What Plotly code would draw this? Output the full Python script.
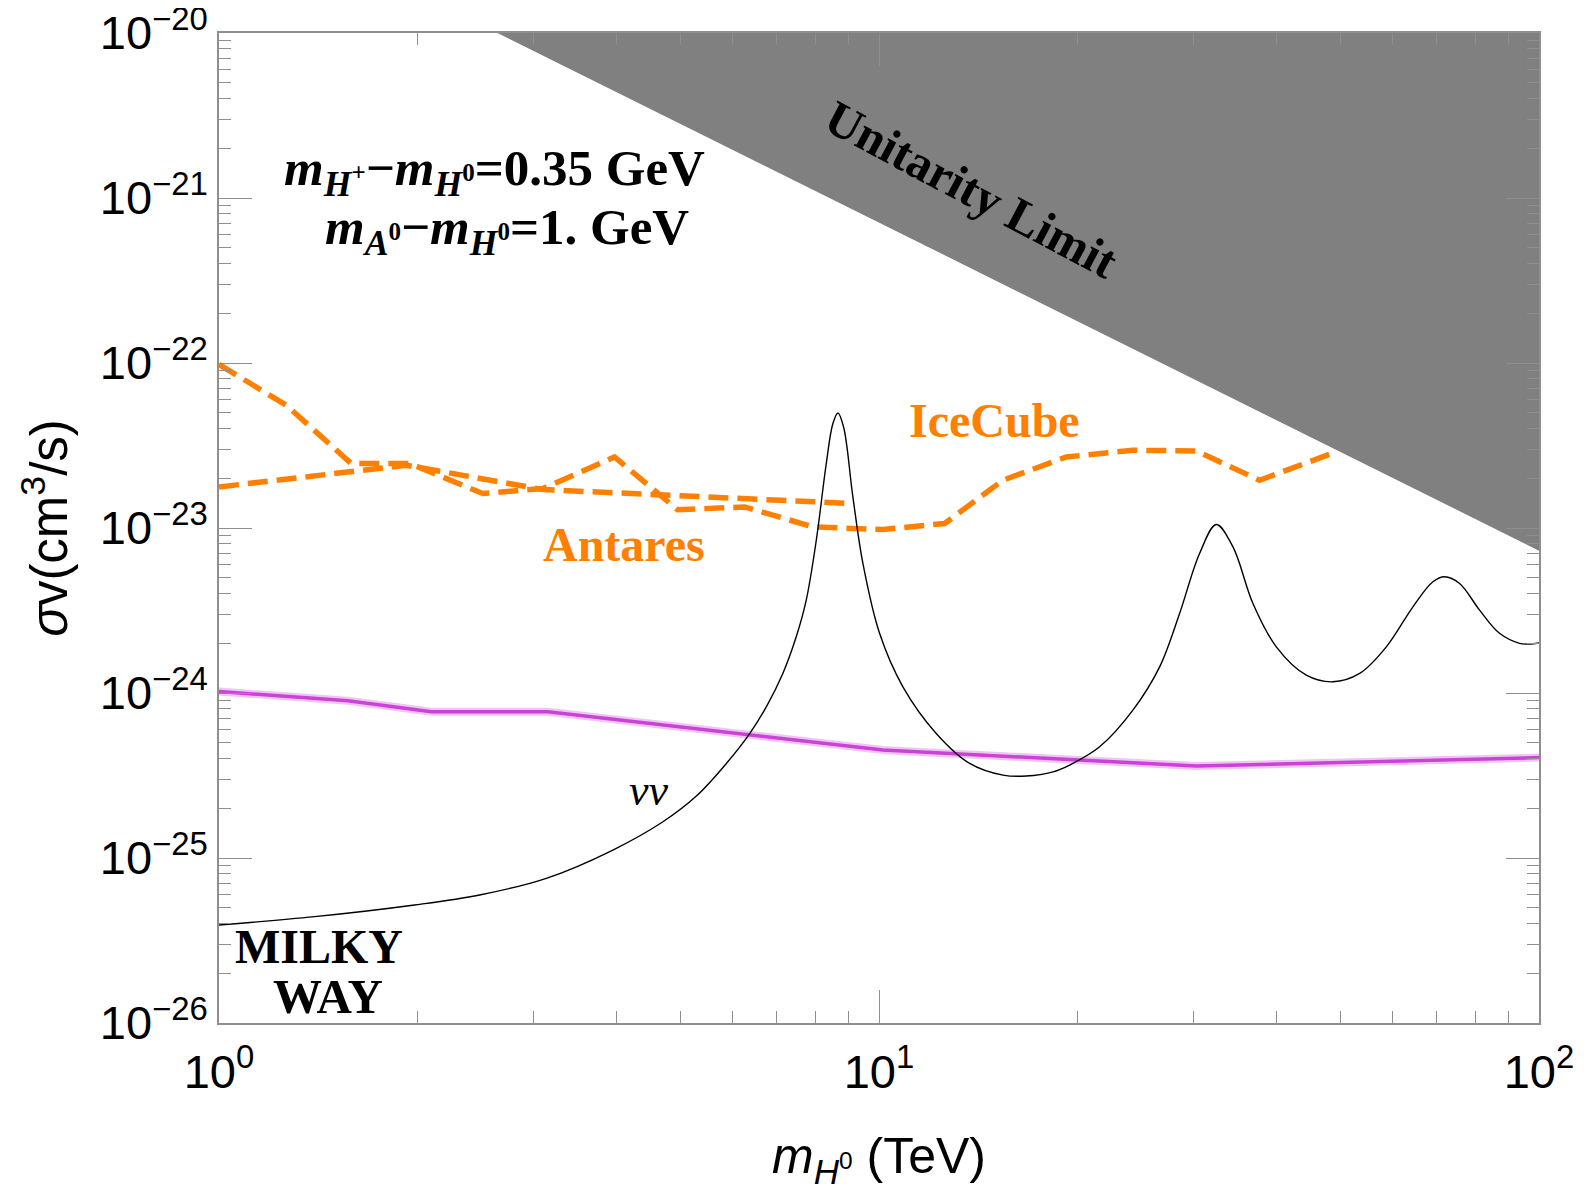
import plotly.graph_objects as go

# ---------------- data ----------------
# nu-nu annihilation cross-section (Milky Way), black curve
nn_mass = [1.0, 1.396, 1.978, 2.482, 3.133, 3.952, 4.706, 5.288, 5.870, 6.368,
           6.749, 7.150, 7.492, 7.758, 8.035, 8.320, 8.514, 8.664, 8.838, 9.129,
           9.454, 10.02, 10.87, 12.21, 13.72, 15.41, 16.72, 18.35, 19.45, 21.59,
           24.25, 26.62, 28.54, 30.60, 32.44, 34.38, 36.86, 39.99, 44.41, 48.72,
           53.48, 58.71, 64.42, 69.07, 71.94, 75.80, 81.28, 87.14, 93.46, 96.77, 100.0]
nn_sv = [3.93e-26, 4.41e-26, 5.19e-26, 5.97e-26, 7.53e-26, 1.118e-25, 1.659e-25, 2.374e-25, 3.736e-25, 5.676e-25,
         8.25e-25, 1.314e-24, 2.19e-24, 3.653e-24, 8.43e-24, 2.459e-23, 4.295e-23, 4.98e-23, 4.096e-23, 1.543e-23,
         6.10e-24, 2.30e-24, 1.09e-24, 5.69e-25, 3.746e-25, 3.18e-25, 3.14e-25, 3.33e-25, 3.66e-25, 4.72e-25,
         7.88e-25, 1.441e-24, 3.035e-24, 7.01e-24, 1.05e-23, 7.68e-24, 3.49e-24, 1.905e-24, 1.283e-24, 1.169e-24,
         1.314e-24, 1.905e-24, 3.33e-24, 4.72e-24, 5.06e-24, 4.61e-24, 3.18e-24, 2.30e-24, 2.00e-24, 1.98e-24, 2.01e-24]

# magenta limit curve
mag_mass = [1.0, 1.568, 2.098, 3.15, 10.14, 30.26, 100.0]
mag_sv = [1.02e-24, 8.97e-25, 7.69e-25, 7.69e-25, 4.51e-25, 3.61e-25, 4.06e-25]

# IceCube limit (orange dashed)
ice_mass = [1.0, 1.265, 1.586, 1.945, 2.51, 3.096, 3.975, 4.953, 6.258, 7.94,
            10.14, 12.57, 15.41, 19.22, 24.25, 30.25, 37.73, 48.16]
ice_sv = [9.8e-23, 5.54e-23, 2.46e-23, 2.46e-23, 1.618e-23, 1.734e-23, 2.695e-23, 1.29e-23, 1.342e-23, 1.016e-23,
          9.79e-24, 1.065e-23, 1.948e-23, 2.695e-23, 2.96e-23, 2.93e-23, 1.948e-23, 2.80e-23]

# Antares limit (orange dashed)
ant_mass = [1.0, 1.922, 3.096, 9.129]
ant_sv = [1.774e-23, 2.40e-23, 1.71e-23, 1.407e-23]

# unitarity limit (grey region boundary)
uni_mass = [2.643, 100.0, 100.0]
uni_sv = [1e-20, 7.29e-24, 1e-20]

x_tickvals = [1, 10, 100]
x_ticktext = ["10<sup>0</sup>", "10<sup>1</sup>", "10<sup>2</sup>"]
y_tickvals = [1e-26, 1e-25, 1e-24, 1e-23, 1e-22, 1e-21, 1e-20]
y_ticktext = ["10<sup>\u221226</sup>", "10<sup>\u221225</sup>", "10<sup>\u221224</sup>",
              "10<sup>\u221223</sup>", "10<sup>\u221222</sup>", "10<sup>\u221221</sup>",
              "10<sup>\u221220</sup>"]

x_minor = [k * 10 ** d for d in (0, 1) for k in range(2, 10)]
y_minor = [k * 10.0 ** d for d in range(-26, -20) for k in range(2, 10)]

ORANGE = "rgb(255,128,0)"
MAGENTA = "rgb(202,66,214)"
AXC = "#8e8e8e"
SERIF = "Liberation Serif"
SANS = "Liberation Sans"

fig = go.Figure()

fig.add_trace(go.Scatter(x=ice_mass, y=ice_sv, mode="lines", name="IceCube",
                         line=dict(color=ORANGE, width=5.5, dash="20px,9px")))
fig.add_trace(go.Scatter(x=ant_mass, y=ant_sv, mode="lines", name="Antares",
                         line=dict(color=ORANGE, width=5.5, dash="20px,9px")))
fig.add_trace(go.Scatter(x=mag_mass, y=mag_sv, mode="lines", name="halo",
                         line=dict(color="rgba(202,66,214,0.30)", width=8)))
fig.add_trace(go.Scatter(x=mag_mass, y=mag_sv, mode="lines", name="limit",
                         line=dict(color=MAGENTA, width=3.5)))
fig.add_trace(go.Scatter(x=nn_mass, y=nn_sv, mode="lines", name="\u03bd\u03bd",
                         line=dict(color="black", width=1.4, shape="spline", smoothing=1.0)))
fig.add_trace(go.Scatter(x=uni_mass, y=uni_sv, mode="lines", name="Unitarity",
                         fill="toself", fillcolor="#808080", line=dict(color="#808080", width=0)))

axis_common = dict(
    type="log", ticks="inside", ticklen=33, tickwidth=1.3, tickcolor=AXC,
    showline=True, linecolor=AXC, linewidth=1.5, mirror="allticks",
    showgrid=False, zeroline=False, ticklabeloverflow="allow",
    tickfont=dict(family=SANS, size=47, color="black"),
)

fig.update_xaxes(
    range=[0, 2], tickvals=x_tickvals, ticktext=x_ticktext, ticklabelstandoff=7,
    minor=dict(tickvals=x_minor, ticks="inside", ticklen=12, tickwidth=1.2,
               tickcolor=AXC, showgrid=False),
    title=dict(text="<i>m</i><sub><i>H</i><sup>0</sup></sub> (TeV)",
               font=dict(family=SANS, size=50, color="black"), standoff=74),
    **axis_common,
)
fig.update_yaxes(
    range=[-26, -20], tickvals=y_tickvals, ticktext=y_ticktext,
    minor=dict(tickvals=y_minor, ticks="inside", ticklen=12, tickwidth=1.2,
               tickcolor=AXC, showgrid=False),
    title=dict(text="<i>\u03c3</i>v(cm<sup>3</sup>/s)",
               font=dict(family=SANS, size=51, color="black"), standoff=16),
    **axis_common,
)

annotations = [
    dict(x=1.1403, y=-20.948, text="<b>Unitarity Limit</b>", textangle=28,
         font=dict(family=SERIF, size=49, color="black")),
    dict(x=0.4176, y=-20.84,
         text="<b><i>m</i><sub><i>H</i><sup>+</sup></sub>\u2212<i>m</i><sub><i>H</i><sup>0</sup></sub>=0.35 GeV</b>",
         font=dict(family=SERIF, size=51, color="black")),
    dict(x=0.4365, y=-21.20,
         text="<b><i>m</i><sub><i>A</i><sup>0</sup></sub>\u2212<i>m</i><sub><i>H</i><sup>0</sup></sub>=1. GeV</b>",
         font=dict(family=SERIF, size=51, color="black")),
    dict(x=1.1744, y=-22.347, text="<b>IceCube</b>",
         font=dict(family=SERIF, size=48, color=ORANGE)),
    dict(x=0.6130, y=-23.098, text="<b>Antares</b>",
         font=dict(family=SERIF, size=48, color=ORANGE)),
    dict(x=0.6520, y=-24.590, text="<i>\u03bd\u03bd</i>",
         font=dict(family=SERIF, size=44, color="black")),
    dict(x=0.1515, y=-25.537, text="<b>MILKY</b>",
         font=dict(family=SERIF, size=48, color="black")),
    dict(x=0.1645, y=-25.840, text="<b>WAY</b>",
         font=dict(family=SERIF, size=49, color="black")),
]
for a in annotations:
    a.update(xref="x", yref="y", showarrow=False, xanchor="center", yanchor="middle")

# page body adds an 8px margin, so the figure is sized/offset to compensate
fig.update_layout(
    width=1571, height=1183,
    margin=dict(l=211, r=40, t=25, b=168, autoexpand=False),
    plot_bgcolor="white", paper_bgcolor="white",
    showlegend=False,
    annotations=annotations,
)

fig.write_html("out.html")
